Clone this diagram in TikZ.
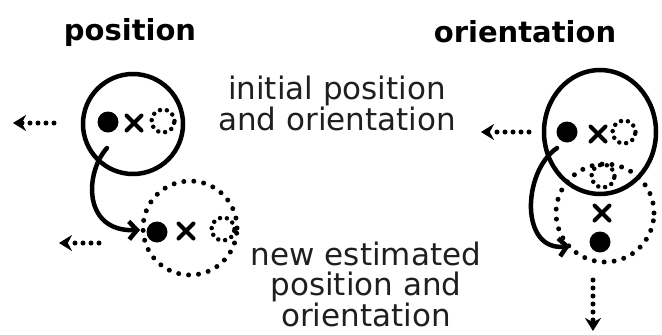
\documentclass[tikz,border=0pt]{standalone}
\usepackage{fontspec}
\setmainfont{DejaVu Sans}
\usetikzlibrary{shapes.misc,shapes.geometric,arrows.meta}

\begin{document}
\begin{tikzpicture}[x=1pt, y=-1pt,
	every node/.append style={text=black},
	head/.style={font=\fontsize{29}{32}\selectfont\bfseries},
	note/.style={font=\fontsize{31}{30}\selectfont, align=center, text=black!88},
	body/.style={draw=black, circle, line width=4.5pt, inner sep=0},
	ghost/.style={draw=black, circle, line width=5pt, line cap=round, dash pattern=on 0pt off 10pt, inner sep=0},
	blob/.style={fill=black, circle, minimum size=21, inner sep=0},
	xmark/.style={draw=black, cross out, line width=4pt, line cap=round, minimum size=11, inner sep=0},
	hint/.style={ghost, line width=4.5pt, dash pattern=on 0pt off 7pt, minimum size=23},
	trail/.style={draw=black, line width=4.5pt, line cap=round, -{Straight Barb[length=8, width=18, line width=4.5pt]}},
	drift/.style={draw=black, line width=5pt, line cap=round, dash pattern=on 0pt off 8pt, -{Stealth[length=13, width=16]}}]
	\useasboundingbox (0,0) rectangle (662,335);

	% titles
	\node[head] (tpos) at (130,32) {position};
	\node[head] (tori) at (525,32) {orientation};

	% left: position
	\node[body, minimum size=100] (c1) at (133,124) {};
	\node[blob] (d1) at (108,122) {};
	\node[xmark] (x1) at (134,123) {};
	\node[hint] (h1) at (163,121) {};
	\node[ghost, minimum size=94] (g1) at (190,228) {};
	\node[blob] (d2) at (157,232) {};
	\node[xmark] (x2) at (186,231) {};
	\node[hint] (h2) at (223,229) {};

	% right: orientation
	\node[body, ellipse, minimum width=112, minimum height=124] (c2) at (600,132) {};
	\node[blob] (d3) at (567,132) {};
	\node[xmark] (x3) at (598,134) {};
	\node[hint] (h3) at (624,132) {};
	\node[ghost, minimum size=98] (g2) at (605,213) {};
	\node[hint] (h4) at (603,176) {};
	\node[xmark] (x4) at (602,213) {};
	\node[blob] (d4) at (600,242) {};

	% labels
	\node[note] (lini) at (337,103) {initial position\\and orientation};
	\node[note] (lnew) at (366,284) {new estimated\\position and\\orientation};

	% moves
	\coordinate (s1) at (107,148);
	\coordinate (e1) at (140,230);
	\coordinate (s2) at (557,148);
	\coordinate (e2) at (570,246);
	\draw[trail] (s1) .. controls (85,172) and (82,232) .. (e1);
	\draw[trail] (s2) .. controls (522,172) and (520,252) .. (e2);

	% drift arrows
	\coordinate (q1) at (54,123);  \coordinate (r1) at (13,123);
	\coordinate (q2) at (99,243);  \coordinate (r2) at (59,243);
	\coordinate (q3) at (529,132); \coordinate (r3) at (481,132);
	\coordinate (q4) at (593,280); \coordinate (r4) at (593,331);
	\foreach \i in {1,2,3,4}
	{
		\draw[drift] (q\i) -- (r\i);
	}
\end{tikzpicture}
\end{document}
